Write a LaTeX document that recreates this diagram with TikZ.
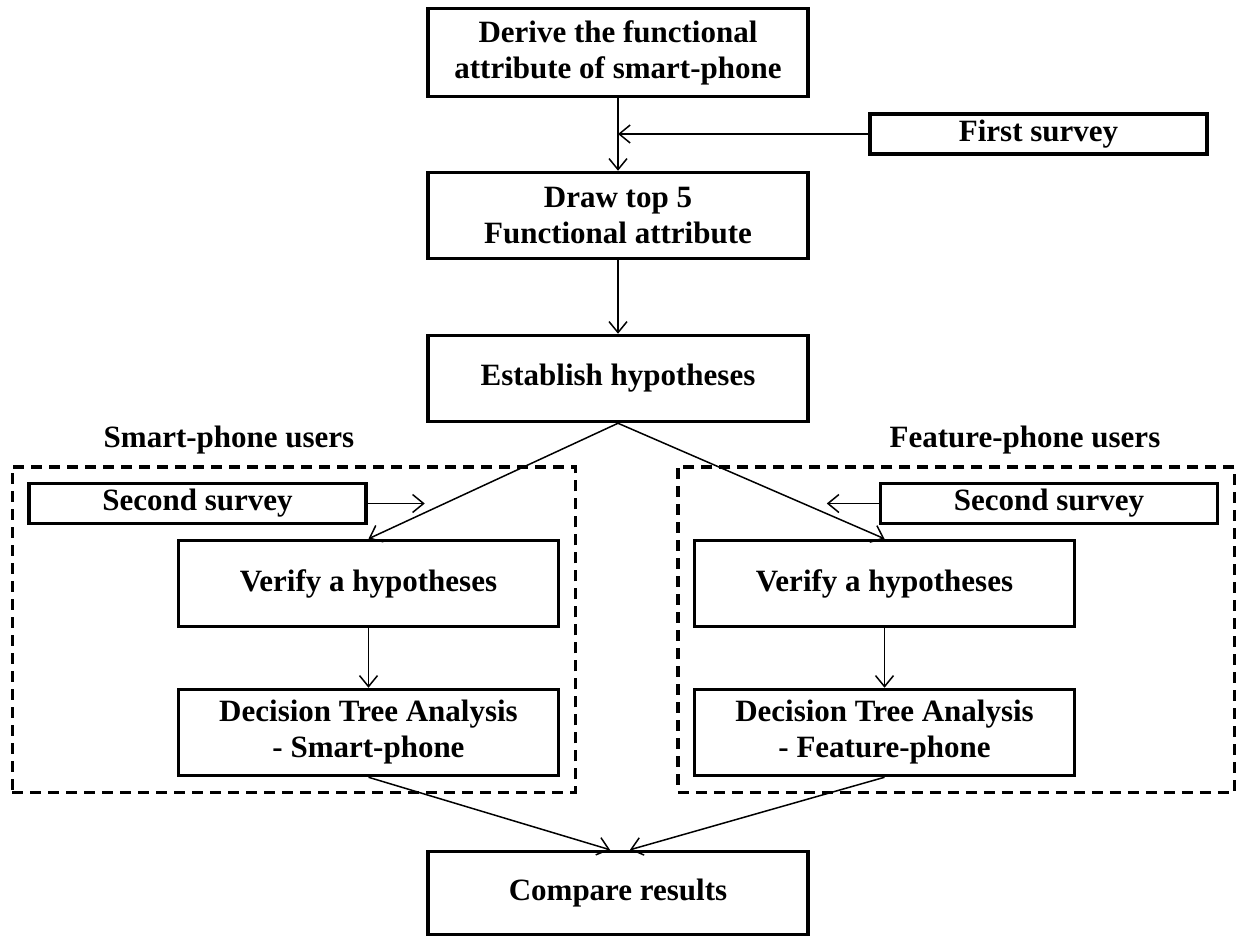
\documentclass[tikz,border=0pt]{standalone}
\usepackage{fontspec}
\setmainfont{Liberation Serif}
\usetikzlibrary{arrows.meta,fit}

\begin{document}
\begin{tikzpicture}[
	x=1pt, y=-1pt,
	node distance = 163pt,
	boxnode/.style={rectangle, draw, line width=3.5pt, minimum width=380pt, minimum height=86pt, align=center, inner sep=0pt, font=\bfseries\fontsize{31}{36}\selectfont},
	surveynode/.style={boxnode, minimum width=337pt, minimum height=40pt},
	groupnode/.style={rectangle, draw, line width=3.5pt, dash pattern=on 11pt off 7pt, inner sep=15pt},
	usersnode/.style={anchor=base, inner sep=0pt, font=\bfseries\fontsize{31}{36}\selectfont},
	flow/.style={-{Straight Barb[length=11pt, width=18pt]}, line width=1.5pt},
	]
	\useasboundingbox (0,0) rectangle (1236,938);
	%Nodes
	\node[boxnode, minimum height=88pt] (derive) at (618,52.5) {Derive the functional\\attribute of smart-phone};
	\node[boxnode]     (top5)      [below of = derive]  {Draw top 5\\Functional attribute};
	\node[boxnode]     (establish) [below of = top5]    {Establish hypotheses};
	\node[surveynode]  (first)     at (1038.5,134)      {First survey};
	
	\node[usersnode]   (lusers)    at (229,447)         {Smart-phone users};
	\node[surveynode]  (lsurvey)   at (197.5,503.5)     {Second survey};
	\node[boxnode]     (lverify)   at (368.5,583.5)     {Verify a hypotheses};
	\node[boxnode]     (ldecide)   [below of = lverify, node distance=149pt] {Decision Tree Analysis\\- Smart-phone};
	
	\node[usersnode]   (rusers)    at (1025,447)        {Feature-phone users};
	\node[surveynode]  (rsurvey)   at (1049,503.5)      {Second survey};
	\node[boxnode]     (rverify)   at (884.5,583.5)     {Verify a hypotheses};
	\node[boxnode]     (rdecide)   [below of = rverify, node distance=149pt] {Decision Tree Analysis\\- Feature-phone};
	
	\node[boxnode, minimum height=83pt] (compare) at (618,893) {Compare results};
	
	\node[groupnode, fit=(lsurvey)(lverify)(ldecide)] (lgroup) {};
	\node[groupnode, fit=(rsurvey)(rverify)(rdecide)] (rgroup) {};
	
	\coordinate (firstjoin)   at (derive.south |- first.west);
	\coordinate (lsurveytip)  at ([xshift=57pt]lsurvey.east);
	\coordinate (rsurveytip)  at ([xshift=-52pt]rsurvey.west);
	
	%Lines
	\draw[flow] (derive) -- (top5);
	\draw[flow] (first) -- (firstjoin);
	\draw[flow] (top5) -- (establish);
	\draw[flow] (establish.south) -- (lverify.north);
	\draw[flow] (establish.south) -- (rverify.north);
	\draw[flow] (lsurvey) -- (lsurveytip);
	\draw[flow] (rsurvey) -- (rsurveytip);
	\draw[flow] (lverify) -- (ldecide);
	\draw[flow] (rverify) -- (rdecide);
	\draw[flow] (ldecide.south) -- ([xshift=-8pt]compare.north);
	\draw[flow] (rdecide.south) -- ([xshift=12pt]compare.north);
\end{tikzpicture}
\end{document}
